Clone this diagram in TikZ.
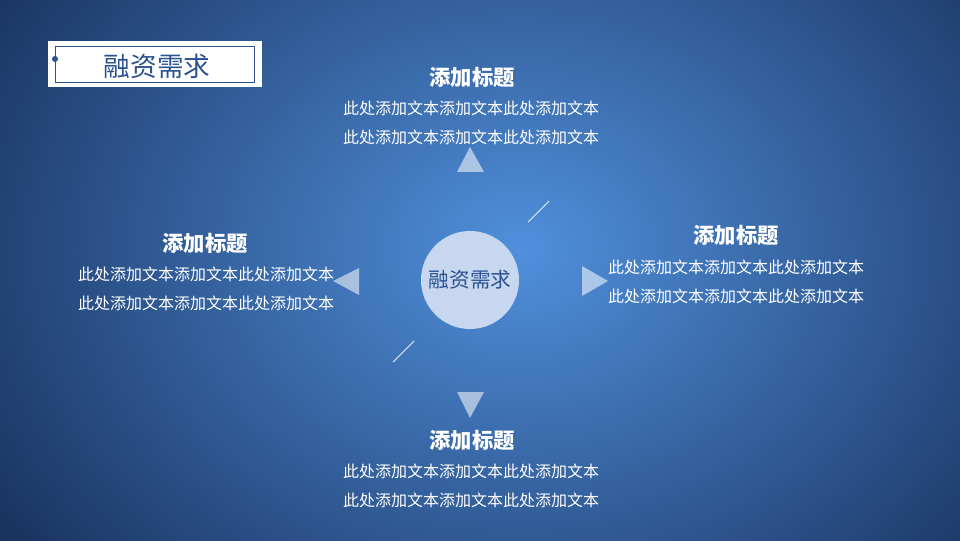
\documentclass[tikz,border=0pt]{standalone}
\usepackage{fontspec}
\newfontfamily\cjk{Noto Sans CJK SC}
\usepackage{tikz}
\usetikzlibrary{positioning}
\definecolor{bgdark}{HTML}{152B55}
\definecolor{bglight}{HTML}{5090DC}
\definecolor{titleblue}{HTML}{2B5191}
\definecolor{hubfill}{HTML}{C6D7EF}

\begin{document}
\begin{tikzpicture}[x=0.75pt, y=0.75pt,
        heading/.style={text=white, font=\cjk\bfseries\fontsize{16}{19}\selectfont},
        bodytext/.style={text=white, align=center, font=\cjk\fontsize{12}{21.75}\selectfont},
        pointer/.style={fill=white, fill opacity=0.55},
        spark/.style={draw=white!75!bglight, line width=0.8pt}]
        \useasboundingbox (0,0) rectangle (960,540);
        \fill [bgdark] (0,0) rectangle (960,540);
        \begin{scope}
        \clip (0,0) rectangle (960,540);
        \shade [inner color=bglight, outer color=bgdark] (520,290) ellipse (680 and 540);
        \end{scope}

        % title box
        \fill [white] (48,453) rectangle (262,499);
        \draw [titleblue, line width=0.6pt] (55,458) rectangle (254,494);
        \fill [titleblue] (55,481) circle (3);
        \node (title) [text=titleblue, font=\cjk\fontsize{20}{24}\selectfont] at (157,474) {融资需求};

        % centre
        \node (hub) [circle, fill=hubfill, minimum size=73.5pt, inner sep=0pt, text=titleblue,
            font=\cjk\fontsize{15.5}{18}\selectfont] at (470,260) {融资需求};

        % pointers
        \fill [pointer] (470,393) -- (457,368) -- (484,368) -- cycle;
        \fill [pointer] (333,259) -- (359,272) -- (359,245) -- cycle;
        \fill [pointer] (608,259) -- (582,274) -- (582,244) -- cycle;
        \fill [pointer] (470,122) -- (457,148) -- (484,148) -- cycle;
        \draw [spark] (528,318) -- (549,339);
        \draw [spark] (393,178) -- (414,199);

        % texts
        \node (headtop) [heading] at (472,463) {添加标题};
        \node (bodytop) [bodytext] at (471,417.5) {此处添加文本添加文本此处添加文本\\此处添加文本添加文本此处添加文本};
        \node (headleft) [heading] at (205,297) {添加标题};
        \node (bodyleft) [bodytext] at (206,251.5) {此处添加文本添加文本此处添加文本\\此处添加文本添加文本此处添加文本};
        \node (headright) [heading] at (736,305) {添加标题};
        \node (bodyright) [bodytext] at (736,258.5) {此处添加文本添加文本此处添加文本\\此处添加文本添加文本此处添加文本};
        \node (headbottom) [heading] at (472,100) {添加标题};
        \node (bodybottom) [bodytext] at (471,54.5) {此处添加文本添加文本此处添加文本\\此处添加文本添加文本此处添加文本};
\end{tikzpicture}
\end{document}
